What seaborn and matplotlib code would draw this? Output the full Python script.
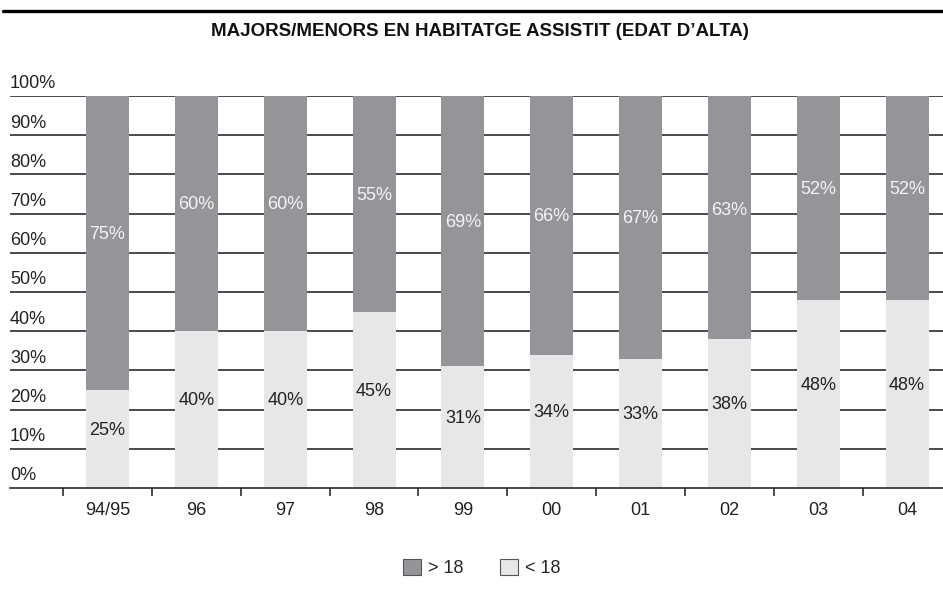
import matplotlib
matplotlib.use("Agg")
import matplotlib.pyplot as plt
from matplotlib.lines import Line2D
from matplotlib.patches import Patch
import seaborn as sns
import pandas as pd

# Age at admission to assisted housing, share per year (%)
years = ["94/95", "96", "97", "98", "99", "00", "01", "02", "03", "04"]
over_18 = [75, 60, 60, 55, 69, 66, 67, 63, 52, 52]
under_18 = [25, 40, 40, 45, 31, 34, 33, 38, 48, 48]

DARK = "#939598"
LIGHT = "#e6e7e8"
GRID = "#2b2b2b"

sns.set_theme(style="white")
plt.rcParams["font.family"] = ["Liberation Sans", "DejaVu Sans"]

fig = plt.figure(figsize=(9.43, 6.10), dpi=100)
ax = fig.add_axes([10 / 943, 0.2, 1 - 10 / 943, 0.8426 - 0.2])

df = pd.DataFrame({"year": years, "over": over_18, "under": under_18})
df["over_base"] = 100 - df["over"]

# horizontal gridlines behind the bars
for v in range(10, 101, 10):
    ax.axhline(v, color=GRID, lw=1.2, zorder=0)

bw = 0.484
# >18 share, hanging from the 100% line
sns.barplot(data=df, x="year", y="over", order=years, color=DARK,
            width=bw, saturation=1, bottom=df["over_base"].values,
            ax=ax, zorder=2, linewidth=0)
# <18 share, rising from the baseline
sns.barplot(data=df, x="year", y="under", order=years, color=LIGHT,
            width=bw, saturation=1, ax=ax, zorder=3, linewidth=0)

ax.set_xlim(-1.098, 9.405)
ax.set_ylim(0, 100)

# value labels inside each segment
for i, (o, u) in enumerate(zip(over_18, under_18)):
    ax.text(i, 100 - o / 2 + 2.2, f"{o}%", ha="center", va="center",
            fontsize=13, color="#f4f4f4", zorder=5)
    ax.text(i, u / 2 + 2.2, f"{u}%", ha="center", va="center",
            fontsize=13, color="#222222", zorder=5)

# y labels sitting just above each gridline
ylab_tr = matplotlib.transforms.blended_transform_factory(ax.transAxes, ax.transData)
for v in range(0, 101, 10):
    ax.text(0.0, v + 0.9, f"{v}%", transform=ylab_tr, ha="left", va="bottom",
            fontsize=13, color="#222222")

ax.set_yticks([])
ax.set_xlabel("")
ax.set_ylabel("")
for side in ["left", "right", "top"]:
    ax.spines[side].set_visible(False)
ax.spines["bottom"].set_color(GRID)
ax.spines["bottom"].set_linewidth(1.2)
ax.spines["bottom"].set_zorder(6)

ax.set_xticks(range(len(years)))
ax.set_xticklabels(years, fontsize=13, color="#222222")
ax.tick_params(axis="x", which="major", length=0, pad=10)
ax.set_xticks([i - 0.5 for i in range(len(years))], minor=True)
ax.tick_params(axis="x", which="minor", bottom=True, length=6, width=1.2,
               color=GRID, direction="out")

# title and rule above it
fig.add_artist(Line2D([3 / 943, 1.0], [1 - 11 / 610, 1 - 11 / 610],
                      color="black", lw=2.4, transform=fig.transFigure))
fig.text(480 / 943, 1 - 32 / 610, "MAJORS/MENORS EN HABITATGE ASSISTIT (EDAT D\u2019ALTA)",
         ha="center", va="center", fontsize=13.5, fontweight="bold",
         family=["Liberation Sans Narrow", "Liberation Sans", "DejaVu Sans"],
         color="#111111")

handles = [Patch(facecolor=DARK, edgecolor="#555555", lw=0.8, label="> 18"),
           Patch(facecolor=LIGHT, edgecolor="#555555", lw=0.8, label="< 18")]
fig.legend(handles=handles, loc="center", bbox_to_anchor=(482 / 943, 1 - 568 / 610),
           ncol=2, frameon=False, fontsize=13, handlelength=1.0, handleheight=1.0,
           handletextpad=0.4, columnspacing=2.0)

fig.savefig("out.png", dpi=100)
